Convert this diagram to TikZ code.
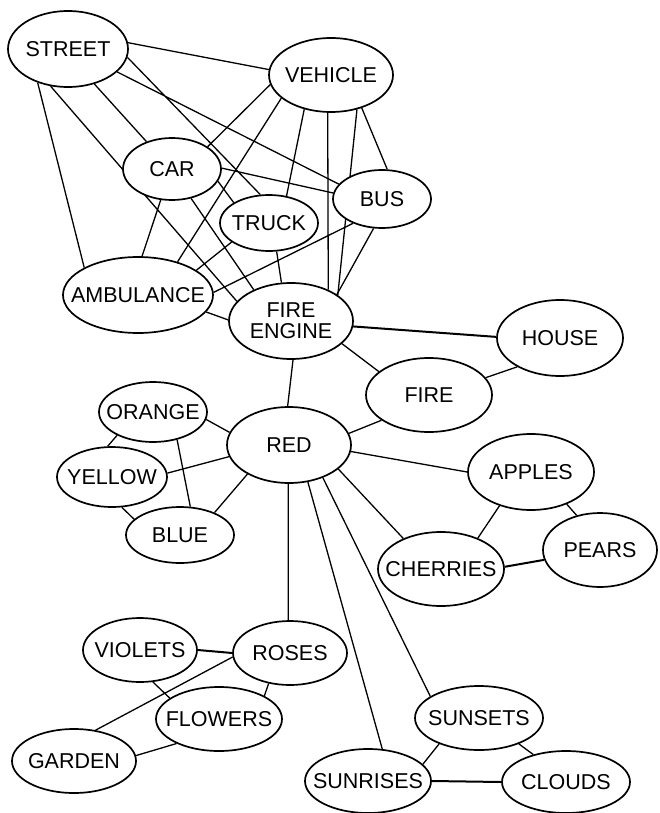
\documentclass[tikz,border=0pt]{standalone}
\usepackage{fontspec}
\setsansfont{Liberation Sans}
\usetikzlibrary{shapes.geometric,backgrounds}

\begin{document}
\begin{tikzpicture}[x=1pt,y=-1pt,
	concept/.style={ellipse, draw, line width=1.7pt, fill=white, inner xsep=-16pt, inner ysep=0pt, align=center, font=\sffamily\fontsize{21.5}{21}\selectfont},
	oval/.style 2 args={minimum width=#1pt, minimum height=#2pt},
	link/.style={line width=1.3pt},
	heavy/.style={line width=2pt}]
	    \useasboundingbox (0,0) rectangle (660,813);
	    \node[concept, oval={120}{76}] (street) at (68,49) {STREET};
	    \node[concept, oval={124}{74}] (vehicle) at (331,75) {VEHICLE};
	    \node[concept, oval={98}{62}] (car) at (172,169) {CAR};
	    \node[concept, oval={98}{56}] (truck) at (269,223) {TRUCK};
	    \node[concept, oval={98}{58}] (bus) at (382,199) {BUS};
	    \node[concept, oval={150}{76}] (ambulance) at (138,295) {AMBULANCE};
	    \node[concept, oval={124}{76}] (fireengine) at (291,321) {FIRE\\ENGINE};
	    \node[concept, oval={126}{76}] (house) at (560,338) {HOUSE};
	    \node[concept, oval={126}{74}] (fire) at (429,395) {FIRE};
	    \node[concept, oval={108}{60}] (orange) at (153,412) {ORANGE};
	    \node[concept, oval={124}{76}] (red) at (289,445) {RED};
	    \node[concept, oval={110}{60}] (yellow) at (112,477) {YELLOW};
	    \node[concept, oval={108}{56}] (blue) at (180,535) {BLUE};
	    \node[concept, oval={126}{76}] (apples) at (531,472) {APPLES};
	    \node[concept, oval={114}{74}] (pears) at (600,550) {PEARS};
	    \node[concept, oval={126}{74}] (cherries) at (441,569) {CHERRIES};
	    \node[concept, oval={114}{64}] (violets) at (140,650) {VIOLETS};
	    \node[concept, oval={114}{64}] (roses) at (290,653) {ROSES};
	    \node[concept, oval={126}{64}] (flowers) at (219,719) {FLOWERS};
	    \node[concept, oval={124}{64}] (garden) at (74,761) {GARDEN};
	    \node[concept, oval={128}{64}] (sunsets) at (479,718) {SUNSETS};
	    \node[concept, oval={126}{64}] (sunrises) at (368,781) {SUNRISES};
	    \node[concept, oval={128}{62}] (clouds) at (566,782) {CLOUDS};
	    \begin{pgfonlayer}{background}
	    \draw[link] (street.6) -- (vehicle.175) (street.-8) -- (truck.107) (street.-25) -- (bus.161) (street.-53) -- (car.133) (street.-115) -- (fireengine.160) (street.-132) -- (ambulance.153);
	    \draw[link] (vehicle.189) -- (car.32) (vehicle.205) -- (ambulance.40) (vehicle.232) -- (truck.57) (vehicle.265) -- (fireengine.40) (vehicle.-53) -- (fireengine.29) (vehicle.-47) -- (bus.80);
	    \draw[link] (car.1) -- (bus.173) (car.-15) -- (truck.150) (car.250) -- (ambulance.84) (car.-57) -- (fireengine.140);
	    \draw[link] (truck.207) -- (ambulance.23) (truck.-75) -- (fireengine.104) (bus.220) -- (ambulance.2) (bus.254) -- (fireengine.30) (ambulance.-14) -- (fireengine.179);
	    \draw[heavy] (fireengine.-5) -- (house.179);
	    \draw[link] (fireengine.-24) -- (fire.155) (fire.17) -- (house.214) (fireengine.-87) -- (red.92) (fire.208) -- (red.11);
	    \draw[link] (orange.-8) -- (red.168) (yellow.4) -- (red.191) (blue.33) -- (red.215) (orange.213) -- (yellow.98) (orange.-49) -- (blue.70) (yellow.-72) -- (blue.161);
	    \draw[link] (red.-91) -- (roses.93) (red.-63) -- (sunrises.66) (red.-44) -- (sunsets.156) (red.-26) -- (cherries.141) (red.-6) -- (apples.180);
	    \draw[link] (apples.227) -- (cherries.40) (apples.-42) -- (pears.124);
	    \draw[heavy] (cherries.2) -- (pears.190) (violets.0) -- (roses.180) (sunrises.0) -- (clouds.180);
	    \draw[link] (roses.184) -- (garden.55) (violets.-68) -- (flowers.157) (roses.235) -- (flowers.27) (flowers.210) -- (garden.5);
	    \draw[link] (sunsets.213) -- (sunrises.17) (sunsets.-33) -- (clouds.140);
	    \end{pgfonlayer}
	  \end{tikzpicture}
\end{document}
